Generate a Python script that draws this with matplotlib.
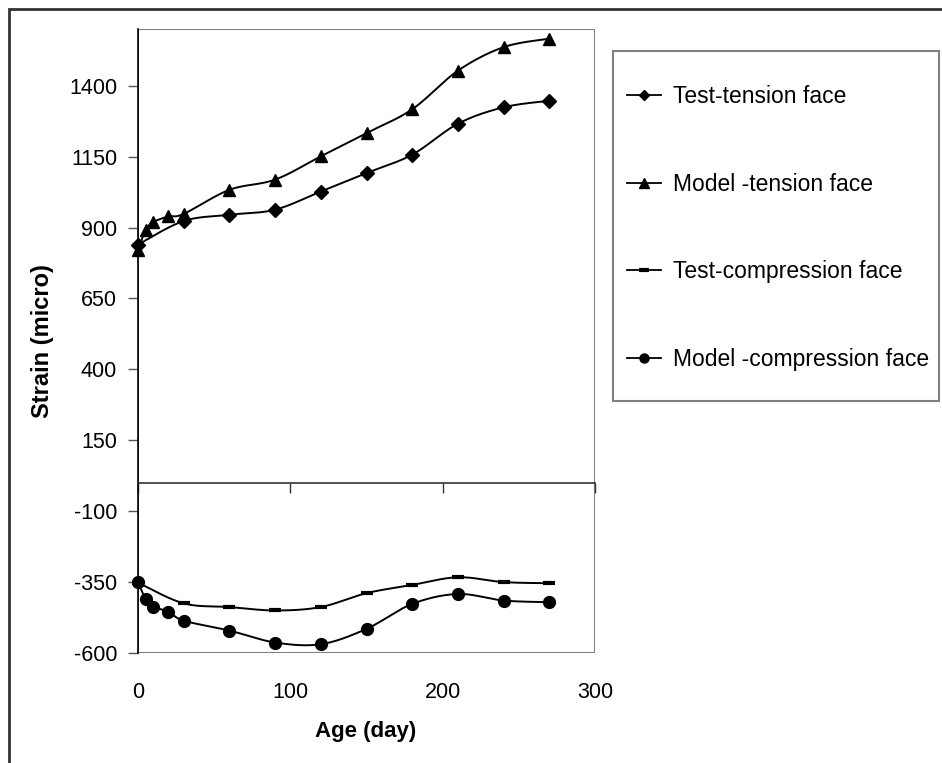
import numpy as np
import matplotlib.pyplot as plt
from matplotlib.lines import Line2D
from matplotlib.patches import Rectangle

plt.rcParams['font.family'] = ['Liberation Sans', 'DejaVu Sans']

# Age (day) and strain (micro) readings
age_test = [0, 30, 60, 90, 120, 150, 180, 210, 240, 270]
age_model = [0, 5, 10, 20, 30, 60, 90, 120, 150, 180, 210, 240, 270]

test_tension = [840, 923, 945, 963, 1027, 1092, 1157, 1266, 1324, 1347]
model_tension = [822, 890, 919, 939, 948, 1033, 1069, 1151, 1233, 1317, 1453, 1536, 1566]
test_compression = [-352, -425, -438, -450, -438, -389, -360, -333, -350, -354]
model_compression = [-350, -409, -437, -454, -486, -521, -563, -569, -515, -427, -392, -415, -421]

series_labels = ["Test-tension face", "Model -tension face",
                 "Test-compression face", "Model -compression face"]

y_ticks = [-600, -350, -100, 150, 400, 650, 900, 1150, 1400]
x_ticks = [0, 100, 200, 300]


def smooth(x, y, n=24):
    # Catmull-Rom style Bezier smoothing through the points
    pts = np.column_stack([x, y]).astype(float)
    out = [pts[0]]
    t = np.linspace(0, 1, n)[1:, None]
    for i in range(len(pts) - 1):
        p0 = pts[i - 1] if i > 0 else pts[i]
        p1, p2 = pts[i], pts[i + 1]
        p3 = pts[i + 2] if i + 2 < len(pts) else pts[i + 1]
        c1 = p1 + (p2 - p0) / 6
        c2 = p2 - (p3 - p1) / 6
        seg = ((1 - t) ** 3) * p1 + 3 * ((1 - t) ** 2) * t * c1 + 3 * (1 - t) * t ** 2 * c2 + t ** 3 * p2
        out.extend(seg)
    out = np.array(out)
    return out[:, 0], out[:, 1]


W, H = 942, 763
fig = plt.figure(figsize=(W / 100, H / 100), dpi=100)
ax = fig.add_axes([138 / W, 1 - 653 / H, (595 - 138) / W, (653 - 29) / H])

# outer chart border
fig.patches.append(Rectangle((9 / W, -0.05), 1.2, 1 - 9 / H + 0.05, transform=fig.transFigure,
                             fill=False, edgecolor='#333333', lw=2))

styles = [
    (age_test, test_tension, 'D', 7.5, {}),
    (age_model, model_tension, '^', 9, {}),
    (age_test, test_compression, '_', 8, {'markeredgewidth': 3}),
    (age_model, model_compression, 'o', 8.5, {}),
]
for x, y, m, ms, extra in styles:
    sx, sy = smooth(x, y)
    ax.plot(sx, sy, color='black', lw=1.4, solid_joinstyle='round')
    ax.plot(x, y, linestyle='none', marker=m, ms=ms, color='black', clip_on=False, zorder=5, **extra)

ax.set_xlim(0, 300)
ax.set_ylim(-600, 1600)
ax.set_yticks(y_ticks)
ax.set_yticklabels([str(v) for v in y_ticks])
ax.set_xticks(x_ticks)

# plot area frame; x axis crosses at zero
ax.add_patch(Rectangle((0, 0), 1, 1, transform=ax.transAxes, fill=False,
                       edgecolor='#808080', lw=1.5, zorder=1))
for s in ['top', 'right']:
    ax.spines[s].set_visible(False)
ax.spines['bottom'].set_position(('data', 0))
ax.spines['bottom'].set_color('#333333')
ax.spines['bottom'].set_linewidth(1.2)
ax.spines['left'].set_color('black')
ax.spines['left'].set_linewidth(1.2)
ax.tick_params(axis='x', direction='out', length=7, width=1, color='#333333', labelbottom=False)
ax.tick_params(axis='y', direction='out', length=7, width=1, color='#555555', pad=8, labelsize=15.5)

for v in x_ticks:
    ax.text(v, -0.0625, str(v), transform=ax.get_xaxis_transform(), ha='center', va='center', fontsize=15.5)

fig.text(366 / W, 1 - 732 / H, "Age (day)", ha='center', va='center', fontsize=16, fontweight='bold')
fig.text(43 / W, 1 - 341 / H, "Strain (micro)", ha='center', va='center', rotation=90,
         fontsize=17, fontweight='bold')

# legend
fig.patches.append(Rectangle((613 / W, 1 - 401 / H), (939 - 613) / W, (401 - 51) / H,
                             transform=fig.transFigure, fill=False, edgecolor='#808080', lw=1.5))
handles = [
    Line2D([], [], color='black', lw=1.3, marker='D', ms=5.5),
    Line2D([], [], color='black', lw=1.3, marker='^', ms=6.5),
    Line2D([], [], color='black', lw=1.3, marker='_', ms=7, markeredgewidth=3),
    Line2D([], [], color='black', lw=1.3, marker='o', ms=6.5),
]
fig.legend(handles, series_labels, loc='upper left', bbox_to_anchor=(627 / W, 1 - 85 / H),
           frameon=False, fontsize=16.5, borderpad=0, borderaxespad=0, handlelength=1.5,
           handletextpad=0.5, labelspacing=2.82)

fig.savefig("out.png", dpi=100)
